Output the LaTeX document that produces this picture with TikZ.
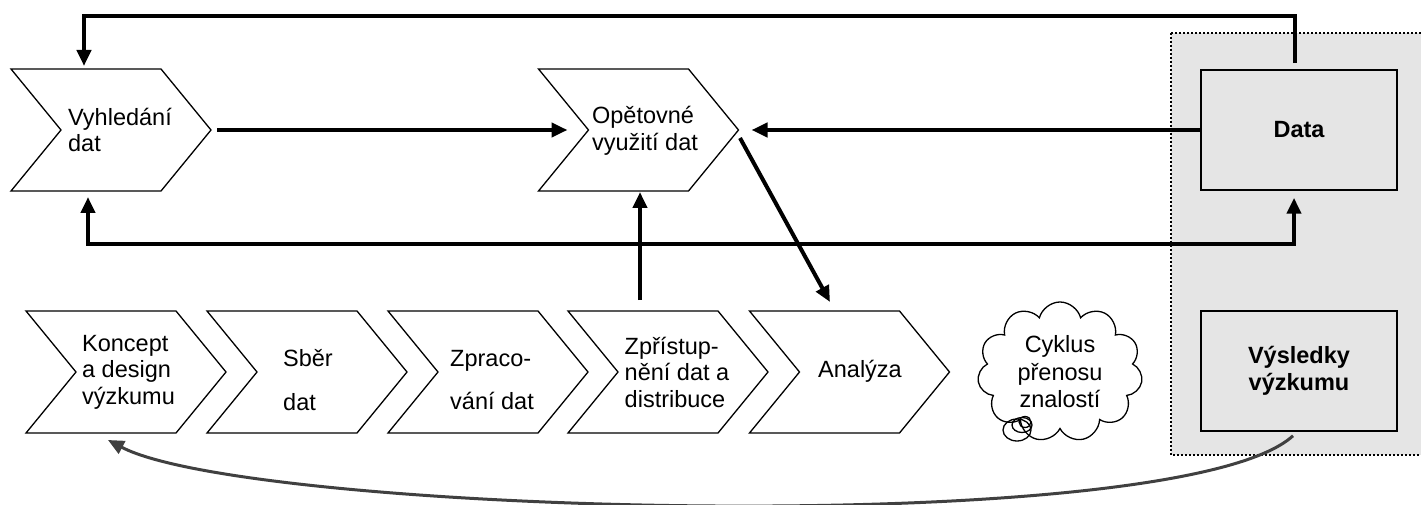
\documentclass[tikz,border=0pt]{standalone}
\usepackage{fontspec}
\setmainfont{Liberation Sans}
\usetikzlibrary{arrows.meta,shapes.symbols,calc}
\newcommand\drawchev[1]{\draw[chevline] (#1.north west) -- ($(#1.north east)+(-50,0)$) -- (#1.east) -- ($(#1.south east)+(-50,0)$) -- (#1.south west) -- ($(#1.west)+(50,0)$) -- cycle;}
\begin{document}
\begin{tikzpicture}[x=1pt,y=-1pt,
  chevbox/.style={minimum width=200pt, minimum height=122pt, inner sep=0pt, outer sep=0pt},
  chevline/.style={line width=1.3pt, line join=miter},
  lbl/.style={align=left, font=\fontsize{23.5}{26.5}\selectfont, inner sep=0pt},
  conn/.style={line width=4pt, -{Triangle[length=16pt,width=14pt]}},
  dconn/.style={line width=4pt, {Triangle[length=16pt,width=14pt]}-{Triangle[length=16pt,width=14pt]}},
  curvearrow/.style={line width=3pt, draw=black!75, -{Triangle[length=16pt,width=14pt]}},
  box/.style={draw, line width=1.5pt, fill=black!10, minimum width=196pt, minimum height=120pt, align=center, font=\fontsize{23.5}{27}\selectfont\bfseries, inner sep=0pt}]
\useasboundingbox (0,0) rectangle (1421,505);
% shaded region
\draw[fill=black!10, line width=2pt, dash pattern=on 2pt off 2pt] (1171,33) rectangle (1426,455);
% chevrons
\node[chevbox] (v) at (111,130) {};
\node[chevbox] (o) at (638.5,130) {};
\node[chevbox] (k) at (126,372) {};
\node[chevbox] (s) at (307,372) {};
\node[chevbox] (z) at (488,372) {};
\node[chevbox] (d) at (668,372) {};
\node[chevbox] (a) at (849.5,372) {};
\drawchev{v}\drawchev{o}\drawchev{k}\drawchev{s}\drawchev{z}\drawchev{d}\drawchev{a}
% texts
\node[lbl] (vt) at (120,130) {Vyhledání\\dat};
\node[lbl] (ot) at (645,131) {Opětovné\\využití dat};
\node[lbl] (kt) at (128.5,372) {Koncept\\a design\\výzkumu};
\node[lbl] (st) at (308,380) {Sběr\\[17pt]dat};
\node[lbl] (zt) at (492,380) {Zpraco-\\[17pt]vání dat};
\node[lbl] (dt) at (677,372) {Zpřístup-\\nění dat a\\distribuce};
\node[lbl] (at) at (860,371) {Analýza};
% boxes
\node[box] (data) at (1299,130) {Data};
\node[box] (vys) at (1299,371) {Výsledky\\výzkumu};
% cloud
\node[cloud, cloud puffs=11, draw, line width=1.3pt, minimum width=165pt, minimum height=140pt, aspect=1.2, align=center, font=\fontsize{23.5}{27.5}\selectfont, inner sep=0pt] (cl) at (1060,372) {Cyklus\\přenosu\\znalostí};
\draw[line width=1.3pt] (1017,430) ellipse [x radius=14pt, y radius=11pt];
\draw[line width=1.3pt] (1022,425) ellipse [x radius=10pt, y radius=7.5pt];
\draw[line width=1.3pt] (1025,422) ellipse [x radius=6pt, y radius=5.5pt];
% connectors
\draw[conn] ($(data.north)+(-4,-6)$) -- ++(0,-47) -| ($(v.north)+(-27,-3)$);
\draw[conn] ($(v.east)+(6,0)$) -- ($(o.west)+(29,0)$);
\draw[conn] (data.west) -- ($(o.east)+(13,0)$);
\draw[dconn] ($(v.south)+(-23,6)$) |- ($(data.south)+(-5,53)$) -- ($(data.south)+(-5,7)$);
\draw[conn] ($(d.north)+(-28,-11)$) -- ($(o.south)+(1.5,1)$);
\draw[conn] ($(o.east)+(1.5,8)$) -- ($(a.north)+(-19.5,-9)$);
\draw[curvearrow] ($(vys.south)+(-6,4)$) .. controls (1180,540) and (250,515) .. ($(k.south)+(-18,7)$);
\end{tikzpicture}
\end{document}
